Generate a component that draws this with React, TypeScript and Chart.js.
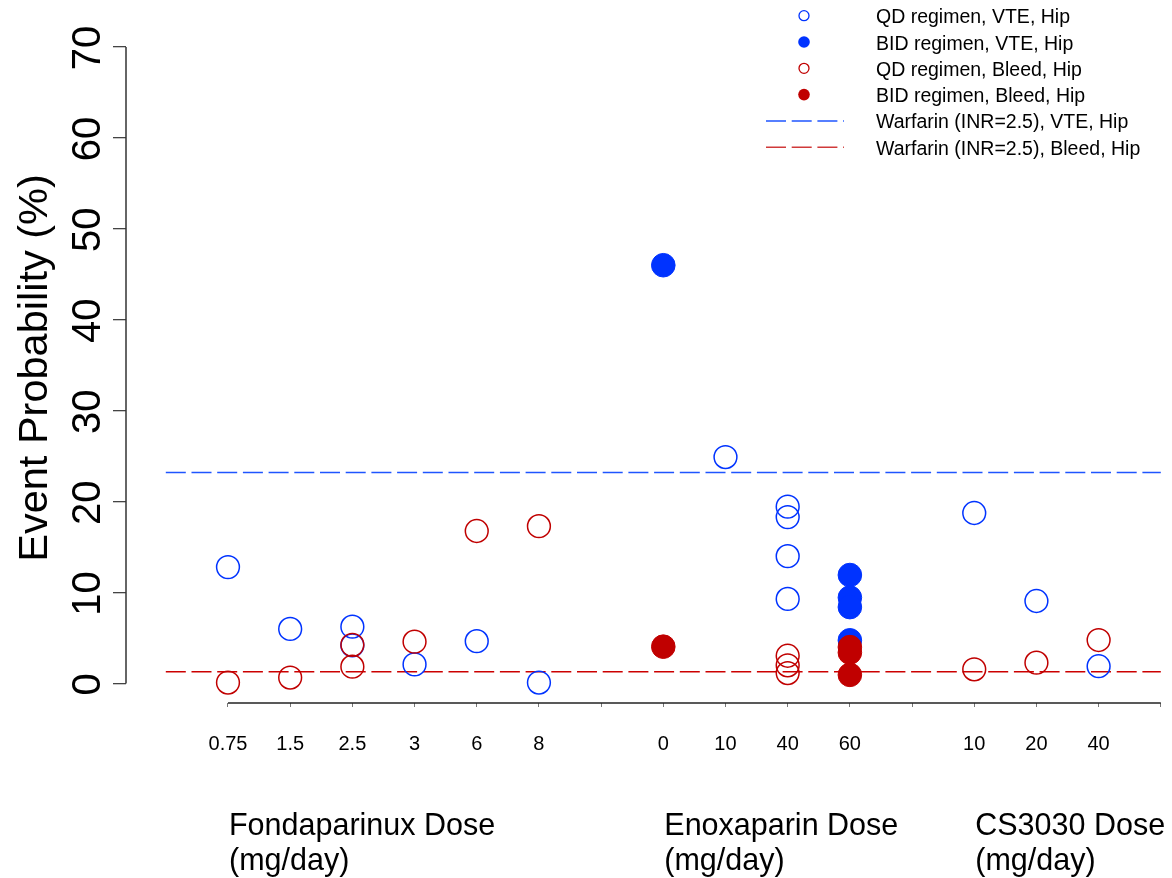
import React, { useEffect, useRef } from 'react';
import { Chart, registerables } from 'chart.js';

Chart.register(...registerables);

// ---------- data ----------
const tickPositions = [1, 2, 3, 4, 5, 6, 7, 8, 9, 10, 11, 12, 13, 14, 15, 16];
const doseTickLabels = ['0.75', '1.5', '2.5', '3', '6', '8', '', '0', '10', '40', '60', '', '10', '20', '40', ''];
const yTickValues = [0, 10, 20, 30, 40, 50, 60, 70];
const groupLabels = ['Fondaparinux Dose', 'Enoxaparin Dose', 'CS3030 Dose'];
const groupStartPositions = [1, 8, 13];
const unitLabel = '(mg/day)';
const yTitle = 'Event Probability (%)';

const qdVteX = [1, 2, 3, 3, 4, 5, 6, 9, 10, 10, 10, 10, 13, 14, 15];
const qdVteY = [12.8, 6.0, 6.25, 4.2, 2.1, 4.65, 0.1, 24.9, 19.45, 18.3, 14.0, 9.3, 18.75, 9.07, 1.9];

const bidVteX = [8, 11, 11, 11, 11];
const bidVteY = [46.0, 11.93, 9.45, 8.4, 4.75];

const qdBleedX = [1, 2, 3, 3, 4, 5, 6, 10, 10, 10, 13, 14, 15];
const qdBleedY = [0.1, 0.65, 4.25, 1.85, 4.6, 16.77, 17.3, 3.05, 2.0, 1.15, 1.56, 2.29, 4.78];

const bidBleedX = [8, 11, 11, 11];
const bidBleedY = [4.05, 4.0, 3.4, 0.95];

const warfarinX = [0, 16];
const warfarinVte = 23.2;
const warfarinBleed = 1.3;

const legendLabels = [
  'QD regimen, VTE, Hip',
  'BID regimen, VTE, Hip',
  'QD regimen, Bleed, Hip',
  'BID regimen, Bleed, Hip',
  'Warfarin (INR=2.5), VTE, Hip',
  'Warfarin (INR=2.5), Bleed, Hip',
];

const BLUE = '#0033ff';
const BLUE_LINE = '#1f55ff';
const RED = '#c00000';
const RED_LINE = '#cc0000';
const FONT = '"Liberation Sans", Arial, sans-serif';

const W = 1172;
const H = 878;

function pts(xs: number[], ys: number[]) {
  return xs.map((x, i) => ({ x, y: ys[i] }));
}

const decorPlugin = {
  id: 'decor',
  afterDraw(chart: any) {
    const ctx = chart.ctx;
    const xs = chart.scales.x;
    const ys = chart.scales.y;
    const area = chart.chartArea;
    ctx.save();

    // y axis line
    ctx.strokeStyle = '#333333';
    ctx.lineWidth = 1.5;
    ctx.beginPath();
    ctx.moveTo(area.left, ys.getPixelForValue(yTickValues[0]));
    ctx.lineTo(area.left, ys.getPixelForValue(yTickValues[yTickValues.length - 1]));
    ctx.stroke();

    // x axis line
    ctx.strokeStyle = '#222222';
    ctx.lineWidth = 1.3;
    ctx.beginPath();
    ctx.moveTo(xs.getPixelForValue(tickPositions[0]), area.bottom);
    ctx.lineTo(xs.getPixelForValue(tickPositions[tickPositions.length - 1]), area.bottom);
    ctx.stroke();

    // x tick labels
    ctx.fillStyle = '#000';
    ctx.font = `20px ${FONT}`;
    ctx.textAlign = 'center';
    ctx.textBaseline = 'middle';
    tickPositions.forEach((v, i) => {
      const lab = doseTickLabels[i];
      if (lab) ctx.fillText(lab, xs.getPixelForValue(v), 744);
    });

    // y tick labels (rotated)
    ctx.font = `40px ${FONT}`;
    ctx.textAlign = 'center';
    ctx.textBaseline = 'alphabetic';
    yTickValues.forEach((v) => {
      ctx.save();
      ctx.translate(100, ys.getPixelForValue(v) + 1);
      ctx.rotate(-Math.PI / 2);
      ctx.fillText(String(v), 0, 0);
      ctx.restore();
    });

    // y title
    ctx.font = `41.5px ${FONT}`;
    ctx.save();
    ctx.translate(47, 368);
    ctx.rotate(-Math.PI / 2);
    ctx.fillText(yTitle, 0, 0);
    ctx.restore();

    // group labels
    ctx.font = `30.5px ${FONT}`;
    ctx.textAlign = 'left';
    ctx.textBaseline = 'middle';
    groupLabels.forEach((g, i) => {
      const px = xs.getPixelForValue(groupStartPositions[i]) + 1;
      ctx.fillText(g, px, 827);
      ctx.fillText(unitLabel, px, 862);
    });

    // legend
    const lx = 804;
    const y0 = 15.7;
    const dy = 26.3;
    ctx.font = `19.5px ${FONT}`;
    ctx.textBaseline = 'middle';
    legendLabels.forEach((lab, i) => {
      const y = y0 + i * dy;
      if (i < 4) {
        const color = i < 2 ? BLUE : RED;
        const filled = i % 2 === 1;
        ctx.beginPath();
        if (filled) {
          ctx.arc(lx, y, 5.8, 0, Math.PI * 2);
          ctx.fillStyle = color;
          ctx.fill();
        } else {
          ctx.arc(lx, y, 5, 0, Math.PI * 2);
          ctx.strokeStyle = color;
          ctx.lineWidth = 1.3;
          ctx.stroke();
        }
      } else {
        ctx.strokeStyle = i === 4 ? BLUE_LINE : '#d03a3a';
        ctx.lineWidth = 1.5;
        ctx.setLineDash([20, 5.7]);
        ctx.beginPath();
        ctx.moveTo(766, y);
        ctx.lineTo(844, y);
        ctx.stroke();
        ctx.setLineDash([]);
      }
      ctx.fillStyle = '#000';
      ctx.fillText(lab, 876, y + 2.2);
    });

    ctx.restore();
  },
};

export default function App() {
  const ref = useRef<HTMLCanvasElement | null>(null);

  useEffect(() => {
    if (!ref.current) return;
    const openPoint = (color: string) => ({
      pointRadius: 11.4,
      pointHoverRadius: 11.4,
      pointBorderWidth: 1.5,
      pointBackgroundColor: 'rgba(0,0,0,0)',
      pointBorderColor: color,
    });
    const filledPoint = (color: string) => ({
      pointRadius: 11.8,
      pointHoverRadius: 11.8,
      pointBorderWidth: 1,
      pointBackgroundColor: color,
      pointBorderColor: color,
    });

    const chart = new Chart(ref.current, {
      type: 'scatter',
      data: {
        datasets: [
          { label: legendLabels[3], data: pts(bidBleedX, bidBleedY), showLine: false, order: 1, clip: false, ...filledPoint(RED) },
          { label: legendLabels[2], data: pts(qdBleedX, qdBleedY), showLine: false, order: 2, clip: false, ...openPoint(RED) },
          { label: legendLabels[1], data: pts(bidVteX, bidVteY), showLine: false, order: 3, clip: false, ...filledPoint(BLUE) },
          { label: legendLabels[0], data: pts(qdVteX, qdVteY), showLine: false, order: 4, clip: false, ...openPoint(BLUE) },
          {
            type: 'line' as any,
            label: legendLabels[4],
            data: pts(warfarinX, warfarinX.map(() => warfarinVte)),
            borderColor: BLUE_LINE,
            borderWidth: 1.5,
            borderDash: [20, 5.7],
            pointRadius: 0,
            fill: false,
            order: 6,
          },
          {
            type: 'line' as any,
            label: legendLabels[5],
            data: pts(warfarinX, warfarinX.map(() => warfarinBleed)),
            borderColor: RED_LINE,
            borderWidth: 1.5,
            borderDash: [20, 5.7],
            pointRadius: 0,
            fill: false,
            order: 5,
          },
        ] as any,
      },
      options: {
        animation: false,
        responsive: false,
        devicePixelRatio: 1,
        layout: { autoPadding: false, padding: { top: 47, left: 0, right: 0, bottom: 0 } },
        plugins: {
          legend: { display: false },
          tooltip: { enabled: false },
          title: { display: false },
        },
        scales: {
          x: {
            type: 'linear',
            min: -0.64,
            max: 16.18,
            afterBuildTicks: (s: any) => {
              s.ticks = tickPositions.map((v) => ({ value: v }));
            },
            afterFit: (s: any) => {
              s.height = H - 703;
            },
            border: { display: false },
            grid: { drawOnChartArea: false, drawTicks: true, tickLength: 4, color: '#777', lineWidth: 1 },
            ticks: { display: false },
          },
          y: {
            type: 'linear',
            min: -2.145,
            max: 70,
            afterBuildTicks: (s: any) => {
              s.ticks = yTickValues.map((v) => ({ value: v }));
            },
            afterFit: (s: any) => {
              s.width = 126;
            },
            border: { display: false },
            grid: { drawOnChartArea: false, drawTicks: true, tickLength: 13, color: '#444', lineWidth: 1.3 },
            ticks: { display: false },
          },
        },
      },
      plugins: [decorPlugin],
    } as any);
    return () => chart.destroy();
  }, []);

  return (
    <div style={{ position: 'fixed', left: 0, top: 0, width: W, height: H, background: '#fff' }}>
      <canvas ref={ref} width={W} height={H} style={{ width: W, height: H, display: 'block' }} />
    </div>
  );
}
